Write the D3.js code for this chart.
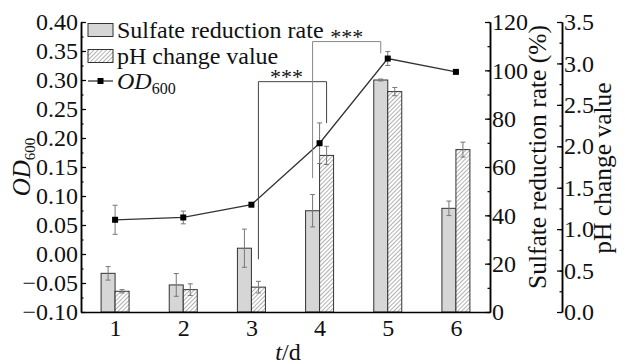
<!DOCTYPE html>
<html>
<head>
<meta charset="utf-8">
<script src="https://cdn.jsdelivr.net/npm/d3@7"></script>
<style>
  body { margin: 0; background: #fff; }
  text { font-family: "Liberation Serif", "Times New Roman", serif; fill: #111; }
</style>
</head>
<body>
<svg id="chart" width="625" height="364"></svg>
<script>
// values
const days = [1, 2, 3, 4, 5, 6];
const sulfateRate = [16.0, 11.2, 26.4, 41.9, 96.0, 42.9];   // %
const sulfateErr  = [2.8, 4.7, 7.9, 6.7, 0.4, 3.0];
const phChange    = [0.25, 0.27, 0.30, 1.89, 2.66, 1.96];
const phErr       = [0.02, 0.07, 0.07, 0.11, 0.05, 0.09];
const od600       = [0.059, 0.063, 0.085, 0.191, 0.337, 0.314];
const odErr       = [0.025, 0.011, 0, 0.035, 0.012, 0];

const odTicks = d3.range(11).map(i => -0.1 + i * 0.05);
const sulfateTicks = d3.range(0, 121, 20);
const phTicks = d3.range(8).map(i => i * 0.5);

// significance brackets (ends in data units of the given axis)
const brackets = [
  { from: 3, to: 4, series: "ph", top: 2.78, endFrom: 0.636, endTo: 2.28, label: "***", color: "#444", dx: -6 },
  { from: 4, to: 5, series: "sulfate", top: 111.9, endFrom: 55.4, endTo: 107, label: "***", color: "#888", dx: 0 }
];

const FONT = '"Liberation Serif", "Times New Roman", serif';
const svg = d3.select("#chart");
const plotL = 81, plotR = 490, plotT = 22, plotB = 312, phAxisX = 562;

const x = d3.scaleLinear().domain([0.5, 6.5]).range([plotL, plotR]);
const inner = d3.scaleBand().domain(["sulfate", "ph"]).range([-14, 14]);
const yOD = d3.scaleLinear().domain([-0.1, 0.4]).range([plotB, plotT]);
const ySul = d3.scaleLinear().domain([0, 120]).range([plotB, plotT]);
const yPh = d3.scaleLinear().domain([0, 3.5]).range([plotB, plotT]);
const yFor = { sulfate: ySul, ph: yPh };

// hatch for pH bars
const defs = svg.append("defs");
const pat = defs.append("pattern")
  .attr("id", "hatch")
  .attr("patternUnits", "userSpaceOnUse")
  .attr("width", 3).attr("height", 3)
  .attr("patternTransform", "rotate(45)");
pat.append("rect").attr("width", 3).attr("height", 3).attr("fill", "#fff");
pat.append("line").attr("x1", 0).attr("y1", 0).attr("x2", 0).attr("y2", 3)
  .attr("stroke", "#555").attr("stroke-width", 0.9);

const rows = days.map((d, i) => ({
  day: d, sul: sulfateRate[i], sulE: sulfateErr[i],
  ph: phChange[i], phE: phErr[i], od: od600[i], odE: odErr[i]
}));

// bars
const bars = svg.append("g");
bars.selectAll(".sul").data(rows).join("rect")
  .attr("x", d => x(d.day) + inner("sulfate"))
  .attr("width", inner.bandwidth())
  .attr("y", d => ySul(d.sul))
  .attr("height", d => ySul(0) - ySul(d.sul))
  .attr("fill", "#d6d6d6").attr("stroke", "#333").attr("stroke-width", 1);
bars.selectAll(".ph").data(rows).join("rect")
  .attr("x", d => x(d.day) + inner("ph"))
  .attr("width", inner.bandwidth())
  .attr("y", d => yPh(d.ph))
  .attr("height", d => yPh(0) - yPh(d.ph))
  .attr("fill", "url(#hatch)").attr("stroke", "#333").attr("stroke-width", 1);

function errorBar(g, cx, y, v, e) {
  if (!e) return;
  const eg = g.append("g").attr("stroke", "#777").attr("stroke-width", 1);
  eg.append("line").attr("x1", cx).attr("x2", cx).attr("y1", y(v - e)).attr("y2", y(v + e));
  eg.append("line").attr("x1", cx - 2.5).attr("x2", cx + 2.5).attr("y1", y(v - e)).attr("y2", y(v - e));
  eg.append("line").attr("x1", cx - 2.5).attr("x2", cx + 2.5).attr("y1", y(v + e)).attr("y2", y(v + e));
}
const errs = svg.append("g");
rows.forEach(d => {
  const w = inner.bandwidth() / 2;
  errorBar(errs, x(d.day) + inner("sulfate") + w, ySul, d.sul, d.sulE);
  errorBar(errs, x(d.day) + inner("ph") + w, yPh, d.ph, d.phE);
  errorBar(errs, x(d.day), yOD, d.od, d.odE);
});

// OD600 line
const line = d3.line().x(d => x(d.day)).y(d => yOD(d.od));
svg.append("path").datum(rows).attr("d", line)
  .attr("fill", "none").attr("stroke", "#333").attr("stroke-width", 1.3);
svg.append("g").selectAll("rect").data(rows).join("rect")
  .attr("x", d => x(d.day) - 3).attr("y", d => yOD(d.od) - 3)
  .attr("width", 6).attr("height", 6).attr("fill", "#000");

// brackets
brackets.forEach(b => {
  const y = yFor[b.series];
  const x1 = x(b.from) + inner(b.series) + inner.bandwidth() / 2;
  const x2 = x(b.to) + inner(b.series) + inner.bandwidth() / 2;
  svg.append("path")
    .attr("d", `M${x1},${y(b.endFrom)}V${y(b.top)}H${x2}V${y(b.endTo)}`)
    .attr("fill", "none").attr("stroke", b.color).attr("stroke-width", 1);
  svg.append("text").attr("x", (x1 + x2) / 2 + b.dx).attr("y", y(b.top) + 2)
    .attr("text-anchor", "middle").attr("font-size", 22).text(b.label);
});

// axes
function styleAxis(g) {
  g.attr("font-size", 24).attr("font-family", FONT);
  g.selectAll("text").style("font-family", FONT).attr("fill", "#111");
  g.select(".domain").attr("stroke", "#000").attr("stroke-width", 1.5);
  g.selectAll(".tick line").attr("stroke", "#000").attr("stroke-width", 1.2);
}
svg.append("g").attr("transform", `translate(${plotL},0)`)
  .call(d3.axisLeft(yOD).tickValues(d3.range(21).map(i => -0.1 + i * 0.025))
    .tickFormat("").tickSizeInner(-2.5).tickSizeOuter(0))
  .call(styleAxis);
svg.append("g").attr("transform", `translate(${plotL},0)`)
  .call(d3.axisLeft(yOD).tickValues(odTicks).tickFormat(d3.format(".2f"))
    .tickSizeInner(-5).tickSizeOuter(0).tickPadding(3))
  .call(styleAxis);

svg.append("g").attr("transform", `translate(${plotR},0)`)
  .call(d3.axisRight(ySul).tickValues(d3.range(0, 121, 10)).tickFormat("")
    .tickSizeInner(-2.5).tickSizeOuter(0))
  .call(styleAxis);
svg.append("g").attr("transform", `translate(${plotR},0)`)
  .call(d3.axisRight(ySul).tickValues(sulfateTicks).tickFormat(d3.format("d"))
    .tickSizeInner(-5).tickSizeOuter(0).tickPadding(2))
  .call(styleAxis);

svg.append("g").attr("transform", `translate(${phAxisX},0)`)
  .call(d3.axisRight(yPh).tickValues(d3.range(15).map(i => i * 0.25)).tickFormat("")
    .tickSizeInner(-2.5).tickSizeOuter(0))
  .call(styleAxis);
svg.append("g").attr("transform", `translate(${phAxisX},0)`)
  .call(d3.axisRight(yPh).tickValues(phTicks).tickFormat(d3.format(".1f"))
    .tickSizeInner(-5).tickSizeOuter(0).tickPadding(2))
  .call(styleAxis);

svg.append("g").attr("transform", `translate(0,${plotB})`)
  .call(d3.axisBottom(x).tickValues(days).tickFormat(d3.format("d")).tickSize(0).tickPadding(7))
  .call(styleAxis);

// axis titles
const odTitle = svg.append("text").attr("font-size", 25).attr("text-anchor", "middle")
  .attr("transform", `translate(30,167) rotate(-90)`);
odTitle.append("tspan").attr("font-style", "italic").text("OD");
odTitle.append("tspan").attr("font-size", 15).attr("dy", 5).text("600");

svg.append("text").attr("font-size", 25.5).attr("text-anchor", "middle")
  .attr("transform", `translate(546,157) rotate(-90)`)
  .text("Sulfate reduction rate (%)");
svg.append("text").attr("font-size", 25.5).attr("text-anchor", "middle")
  .attr("transform", `translate(611,168) rotate(-90)`)
  .text("pH change value");

const xt = svg.append("text").attr("font-size", 24).attr("text-anchor", "middle")
  .attr("x", 288).attr("y", 360);
xt.append("tspan").attr("font-style", "italic").text("t");
xt.append("tspan").text("/d");

// legend
const legend = svg.append("g").attr("transform", "translate(88,0)");
const rowsY = [30, 56, 81];
legend.append("rect").attr("x", 0).attr("y", rowsY[0] - 6.5).attr("width", 25).attr("height", 13)
  .attr("fill", "#d6d6d6").attr("stroke", "#333");
legend.append("rect").attr("x", 0).attr("y", rowsY[1] - 6.5).attr("width", 25).attr("height", 13)
  .attr("fill", "url(#hatch)").attr("stroke", "#333");
legend.append("line").attr("x1", 0).attr("x2", 25).attr("y1", rowsY[2]).attr("y2", rowsY[2])
  .attr("stroke", "#333").attr("stroke-width", 1.3);
legend.append("rect").attr("x", 9.5).attr("y", rowsY[2] - 3).attr("width", 6).attr("height", 6).attr("fill", "#000");
legend.append("text").attr("x", 29).attr("y", rowsY[0] + 7.5).attr("font-size", 24).text("Sulfate reduction rate");
legend.append("text").attr("x", 29).attr("y", rowsY[1] + 7.5).attr("font-size", 24).text("pH change value");
const odLeg = legend.append("text").attr("x", 29).attr("y", rowsY[2] + 7.5).attr("font-size", 24);
odLeg.append("tspan").attr("font-style", "italic").text("OD");
odLeg.append("tspan").attr("font-size", 16).attr("dy", 5).text("600");
</script>
</body>
</html>
